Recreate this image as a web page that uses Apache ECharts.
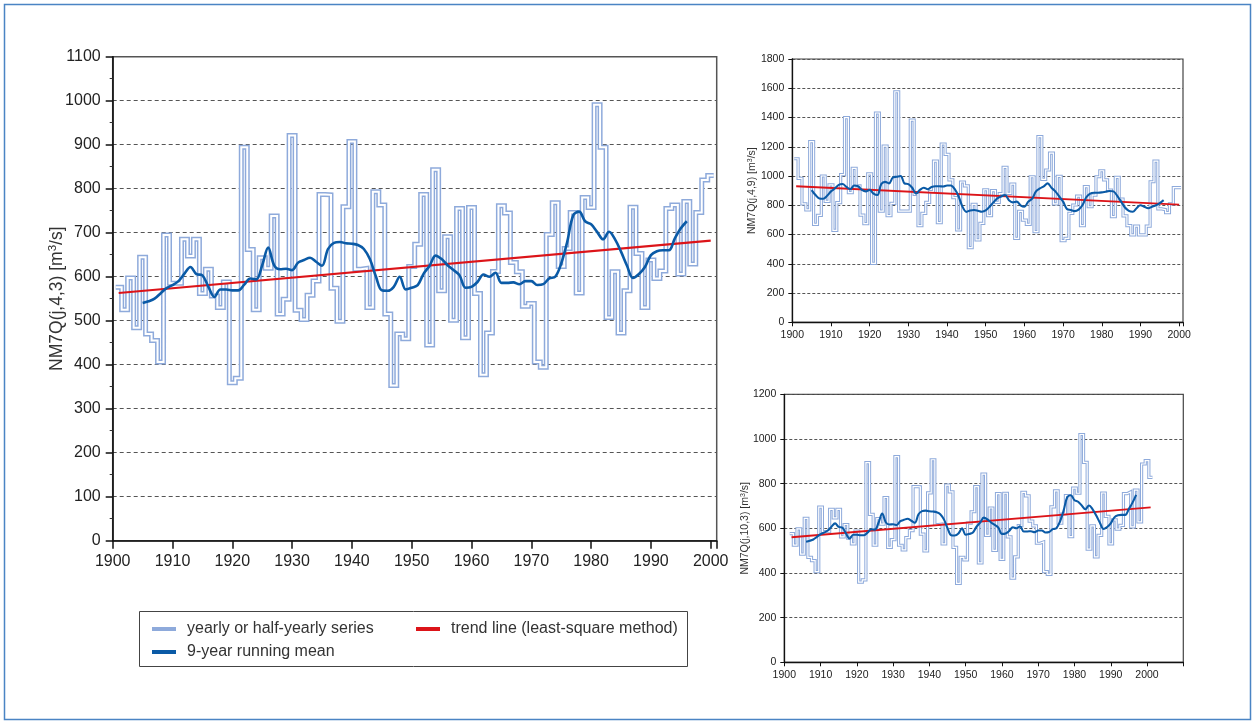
<!DOCTYPE html>
<html><head><meta charset="utf-8">
<script src="https://cdn.jsdelivr.net/npm/echarts@6/dist/echarts.min.js"></script>
<style>html,body{margin:0;padding:0;background:#fff}#c{width:1255px;height:724px}</style>
</head><body><div id="c"></div>
<script>
// ---------- main chart NM7Q(j,4,3): yearly values 1901..2000 ----------
const mainStartYear = 1901;
const mainValues = [
 576,525,597,484,644,470,455,406,695,585,
 585,685,647,685,562,617,556,530,588,359,
 369,894,662,525,643,619,738,515,549,921,
 524,503,558,590,787,786,574,499,759,907,
 617,619,530,793,763,515,353,470,459,623,
 674,787,445,843,568,691,501,755,461,757,
 562,377,472,612,761,745,632,611,533,539,
 406,394,696,768,623,664,746,563,780,757,
 991,894,507,611,472,568,758,653,530,638,
 596,613,755,763,606,771,629,746,820,830];
const mainMeanStart = 1905;
const mainMean = [
 540,544,550,562,574,581,590,607,622,606,
 603,577,554,571,571,569,569,582,596,594,
 626,666,626,617,618,615,632,638,643,634,
 625,663,677,679,676,675,672,663,640,601,
 569,568,577,600,571,575,581,607,625,648,
 640,626,615,603,575,577,588,605,600,609,
 586,586,587,583,590,590,581,583,596,600,
 630,679,739,748,726,719,702,685,702,685,
 657,625,597,606,622,649,658,660,660,687,
 710,726];
const mainTrendYears = [1901, 2000];
const mainTrendValues = [563, 682];

// ---------- top-right NM7Q(j,4,9): 1901..2000 ----------
const trStartYear = 1901;
const trValues = [
 1118,984,809,768,1235,670,731,1000,826,940,
 629,818,1009,1399,886,1052,932,733,675,1014,
 403,1431,760,1205,729,813,1576,760,760,760,
 1382,875,661,745,820,893,1102,681,1219,1148,
 973,852,631,959,932,510,806,563,676,906,
 729,900,820,880,1059,882,945,574,758,699,
 670,995,620,1269,977,1041,1157,809,998,558,
 574,745,802,863,661,927,790,870,995,1036,
 973,904,722,991,843,727,661,597,658,597,
 597,658,961,1102,775,770,750,810,920,920];
const trMeanStart = 1905;
const trMean = [
 904,870,847,845,865,895,915,940,945,925,
 910,935,930,905,895,905,880,870,945,960,
 950,990,995,1000,950,945,920,880,905,920,
 910,925,930,930,928,935,935,910,860,790,
 755,765,768,763,756,765,790,820,847,860,
 870,835,820,825,800,790,825,845,895,915,
 930,950,920,895,860,825,775,768,760,770,
 800,855,880,886,886,888,893,898,895,865,
 825,785,762,756,780,800,790,780,790,800,
 815,835];
const trTrendYears = [1901, 2000];
const trTrendValues = [930, 805];

// ---------- bottom-right NM7Q(j,10,3): 1902..2001 ----------
const brStartYear = 1902;
const brValues = [
 576,525,597,484,644,470,455,406,695,585,
 585,685,647,685,562,617,556,530,588,359,
 369,894,662,525,643,619,738,515,549,921,
 524,503,558,590,787,786,574,499,759,907,
 617,619,530,793,763,515,353,470,459,623,
 674,787,445,843,568,691,501,755,461,757,
 562,377,472,612,761,745,632,611,533,539,
 406,394,696,768,623,664,746,563,780,757,
 1020,895,507,611,472,568,758,653,530,638,
 596,613,755,763,606,771,629,888,903,828];
const brMeanStart = 1906;
const brMean = [
 540,544,550,562,574,581,590,607,622,606,
 603,577,554,571,571,569,569,582,596,594,
 626,666,626,617,618,615,632,638,643,634,
 625,663,677,679,676,675,672,663,640,601,
 569,568,577,600,571,575,581,607,625,648,
 640,626,615,603,575,577,588,605,600,609,
 586,586,587,583,590,590,581,583,596,600,
 630,679,739,748,726,719,702,685,702,685,
 657,625,597,606,622,649,658,660,660,687,
 715,750];
const brTrendYears = [1902, 2001];
const brTrendValues = [560, 694];

const FONT = '"Liberation Sans", Arial, sans-serif';
const C_STEP = '#8eaadb', C_MEAN = '#0a5aa6', C_TREND = '#dc1419';

function stepPts(start, vals) {
  const out = [];
  vals.forEach((v, i) => { const y = start + i; out.push([y - 0.5, v]); out.push([y + 0.5, v]); });
  return out;
}
function seqPts(start, vals) { return vals.map((v, i) => [start + i, v]); }
function pairPts(xs, ys) { return xs.map((x, i) => [x, ys[i]]); }

function seriesSet(gi, start, vals, mStart, mVals, tX, tY, big, named) {
  const ow = big ? 5 : 3.2, iw = big ? 2 : 1.2;
  return [
    { type: 'line', name: named ? 'yearly or half-yearly series' : 's' + gi, xAxisIndex: gi, yAxisIndex: gi,
      data: stepPts(start, vals), showSymbol: false, symbol: 'none', z: 2,
      lineStyle: { color: C_STEP, width: ow, join: 'miter' }, itemStyle: { color: C_STEP }, animation: false },
    { type: 'line', xAxisIndex: gi, yAxisIndex: gi, data: stepPts(start, vals), symbol: 'none', z: 3,
      lineStyle: { color: '#ffffff', width: iw, join: 'miter' }, silent: true, animation: false },
    { type: 'line', name: named ? 'trend line (least-square method)' : 't' + gi, xAxisIndex: gi, yAxisIndex: gi,
      data: pairPts(tX, tY), symbol: 'none', z: 4,
      lineStyle: { color: C_TREND, width: big ? 2.2 : 1.8 }, itemStyle: { color: C_TREND }, animation: false },
    { type: 'line', name: named ? '9-year running mean' : 'm' + gi, xAxisIndex: gi, yAxisIndex: gi,
      data: seqPts(mStart, mVals), symbol: 'none', smooth: 0.35, z: 5,
      lineStyle: { color: C_MEAN, width: big ? 2.6 : 2.1 }, itemStyle: { color: C_MEAN }, animation: false }
  ];
}

function xAxisCfg(gi, max, big, lastLabel) {
  return {
    type: 'value', gridIndex: gi, min: 1900, max: max, interval: 10,
    axisLine: { show: true, onZero: false, lineStyle: { color: '#111', width: big ? 1.6 : 1.3 } },
    axisTick: { show: true, length: big ? 8 : 4, lineStyle: { color: '#111', width: big ? 1.5 : 1 } },
    axisLabel: { fontFamily: FONT, fontSize: big ? 16 : 10.5, color: '#222', margin: big ? 13 : 7,
      formatter: v => (v % 10 === 0 && v <= lastLabel) ? String(v) : '' },
    splitLine: { show: false }
  };
}
function yAxisCfg(gi, max, interval, big, nm, gap) {
  return {
    type: 'value', gridIndex: gi, min: 0, max: max, interval: interval,
    axisLine: { show: true, lineStyle: { color: '#111', width: big ? 1.6 : 1.3 } },
    axisTick: { show: true, length: big ? 7 : 4, lineStyle: { color: '#111', width: big ? 1.5 : 1 } },
    minorTick: { show: big, splitNumber: 2, length: 3, lineStyle: { color: '#333' } },
    axisLabel: { fontFamily: FONT, fontSize: big ? 16 : 10.5, color: '#222', margin: big ? 12 : 8,
      formatter: v => String(v) },
    splitLine: { show: true, lineStyle: { type: big ? [4, 3] : [3, 2], color: '#555', width: 1 } },
    name: '{b|' + nm + ' [m}{s|3}{b|/s]}', nameLocation: 'middle', nameGap: gap, nameRotate: 90,
    nameMoveOverlap: false,
    nameTextStyle: { fontFamily: FONT, color: '#333',
      rich: { b: { fontFamily: FONT, fontSize: big ? 17.5 : 10.5, color: '#333', lineHeight: big ? 20 : 12 },
              s: { fontFamily: FONT, fontSize: big ? 11.5 : 7, color: '#333', verticalAlign: 'top', lineHeight: big ? 20 : 12 } } }
  };
}

const chart = echarts.init(document.getElementById('c'), null, { renderer: 'canvas' });
const legText = { fontFamily: FONT, fontSize: 16, color: '#333', padding: [0, 0, 0, 6] };
const legBase = { icon: 'rect', itemWidth: 24, itemHeight: 4, itemGap: 0, textStyle: legText, selectedMode: false, padding: 0 };

chart.setOption({
  backgroundColor: '#ffffff',
  animation: false,
  grid: [
    { left: 112.7, top: 56.7, right: 538.3, bottom: 183.3, show: true, borderColor: '#555', borderWidth: 1.5, containLabel: false },
    { left: 792.3, top: 59, right: 72, bottom: 401.7, show: true, borderColor: '#444', borderWidth: 1.2, containLabel: false },
    { left: 784.3, top: 394.3, right: 71.7, bottom: 61.7, show: true, borderColor: '#444', borderWidth: 1.2, containLabel: false }
  ],
  xAxis: [ xAxisCfg(0, 2001, true, 2000), xAxisCfg(1, 2001, false, 2000), xAxisCfg(2, 2010, false, 2000) ],
  yAxis: [
    yAxisCfg(0, 1100, 100, true, 'NM7Q(j,4,3)', 46),
    yAxisCfg(1, 1800, 200, false, 'NM7Q(j,4,9)', 34),
    yAxisCfg(2, 1200, 200, false, 'NM7Q(j,10,3)', 33)
  ],
  legend: [
    Object.assign({}, legBase, { left: 152, top: 621, data: ['yearly or half-yearly series'] }),
    Object.assign({}, legBase, { left: 416, top: 621, data: ['trend line (least-square method)'] }),
    Object.assign({}, legBase, { left: 152, top: 644, data: ['9-year running mean'] })
  ],
  graphic: [
    { type: 'rect', shape: { x: 4.5, y: 4.5, width: 1246, height: 715 }, style: { fill: 'none', stroke: '#4a84c4', lineWidth: 1.5 }, silent: true },
    { type: 'rect', shape: { x: 139.5, y: 611.5, width: 548, height: 55 }, style: { fill: 'none', stroke: '#444', lineWidth: 1 }, silent: true }
  ],
  series: [].concat(
    seriesSet(0, mainStartYear, mainValues, mainMeanStart, mainMean, mainTrendYears, mainTrendValues, true, true),
    seriesSet(1, trStartYear, trValues, trMeanStart, trMean, trTrendYears, trTrendValues, false, false),
    seriesSet(2, brStartYear, brValues, brMeanStart, brMean, brTrendYears, brTrendValues, false, false)
  )
});
</script></body></html>
